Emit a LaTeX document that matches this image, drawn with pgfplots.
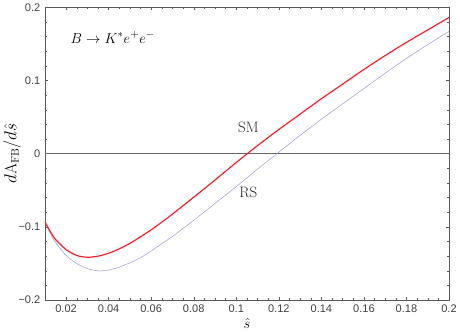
\documentclass[border=0pt]{standalone}
\usepackage{fontspec}
\usepackage{pgfplots}
\pgfplotsset{compat=1.18}
\newfontfamily\tickfont{Liberation Sans}
\definecolor{smred}{HTML}{F5222E}
\definecolor{rsblue}{HTML}{9A9ADC}
\definecolor{framegray}{HTML}{5A5A5A}

\begin{document}
\begin{tikzpicture}
  \begin{axis}[
      scale only axis,
      width=403pt, height=292pt,
      xmin=0.01, xmax=0.2,
      ymin=-0.2, ymax=0.2,
      axis line style={framegray, line width=0.6pt},
      xtick={0.02,0.04,...,0.2},
      xticklabels={0.02,0.04,0.06,0.08,0.1,0.12,0.14,0.16,0.18,0.2},
      ytick={-0.2,-0.1,0,0.1,0.2},
      yticklabels={−0.2,−0.1,0,0.1,0.2},
      minor x tick num=3,
      minor y tick num=4,
      major tick length=3pt,
      minor tick length=2pt,
      every tick/.style={framegray, line width=0.4pt},
      tick label style={font=\tickfont\fontsize{11}{13}\selectfont, color=black!75},
      xticklabel style={yshift=-1pt},
      yticklabel style={xshift=-1pt},
      xlabel={$\hat{s}$},
      ylabel={$d\mathrm{A}_{\mathrm{FB}}/d\hat{s}$},
      xlabel style={font=\fontsize{15}{17}\selectfont, yshift=1pt},
      ylabel style={font=\fontsize{16}{18}\selectfont, yshift=-9pt},
      clip=true,
    ]
    % zero line
    \addplot[black!60, line width=0.8pt] coordinates {(0.01,0) (0.2,0)};

    % RS
    \addplot[rsblue, line width=0.5pt, smooth] coordinates {
      (0.010,-0.093) (0.0125,-0.108) (0.015,-0.121) (0.020,-0.139) (0.025,-0.150)
      (0.030,-0.157) (0.035,-0.160) (0.040,-0.159) (0.045,-0.155)
      (0.050,-0.149) (0.055,-0.142) (0.060,-0.133) (0.065,-0.123)
      (0.070,-0.113) (0.080,-0.091) (0.090,-0.068) (0.100,-0.045)
      (0.110,-0.021) (0.120,0.002) (0.130,0.025) (0.140,0.047)
      (0.150,0.068) (0.160,0.089) (0.170,0.110) (0.180,0.130)
      (0.190,0.149) (0.200,0.167)
    };

    % SM
    \addplot[smred, line width=1.2pt, smooth] coordinates {
      (0.010,-0.093) (0.0125,-0.106) (0.015,-0.117) (0.020,-0.131) (0.025,-0.139)
      (0.030,-0.1415) (0.035,-0.140) (0.040,-0.136) (0.045,-0.130)
      (0.050,-0.1225) (0.055,-0.1135) (0.060,-0.104) (0.065,-0.0935)
      (0.070,-0.0825) (0.080,-0.0595) (0.090,-0.036) (0.100,-0.012)
      (0.110,0.011) (0.120,0.033) (0.130,0.054) (0.140,0.075)
      (0.150,0.095) (0.160,0.115) (0.170,0.134) (0.180,0.152)
      (0.190,0.169) (0.200,0.186)
    };

    \node[anchor=west, font=\fontsize{15}{17}\selectfont] at (axis cs:0.0205,0.159) {$B \to K^{*} e^{+} e^{-}$};
    \node[font=\fontsize{15}{17}\selectfont, color=black!85] at (axis cs:0.1057,0.036) {SM};
    \node[font=\fontsize{15}{17}\selectfont, color=black!85] at (axis cs:0.1057,-0.053) {RS};
  \end{axis}
\end{tikzpicture}
\end{document}
